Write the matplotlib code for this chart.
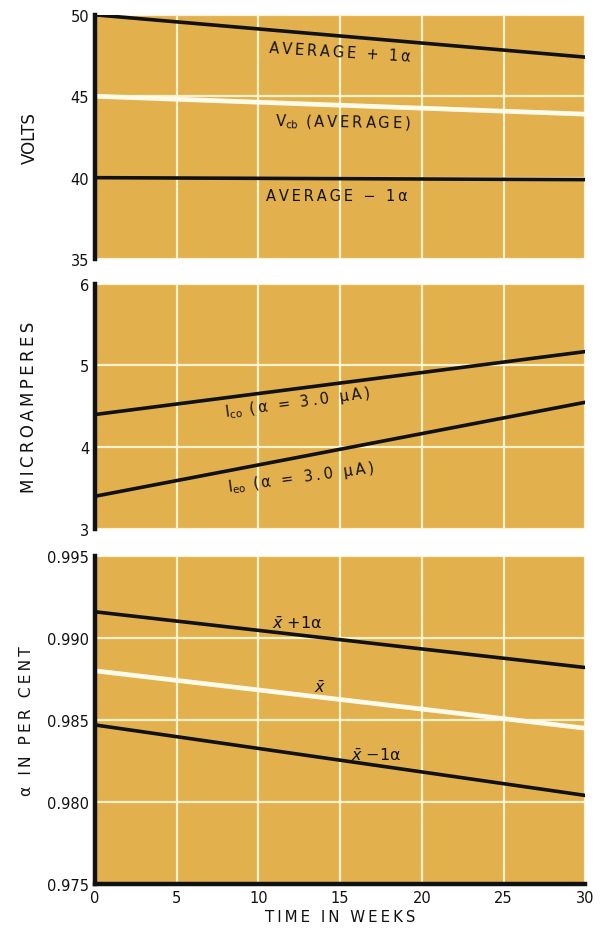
"""
Transistor drift chart: Vcb, Ico/Ieo and alpha over 30 weeks
saved as out.png
"""
import matplotlib
matplotlib.use('Agg')
import matplotlib.pyplot as plt

plt.rcParams['font.family'] = ['DejaVu Sans']

# data
weeks = [0, 30]

volts_plus = [50.0, 47.4]
volts_avg = [45.0, 43.9]
volts_minus = [40.0, 39.88]

ico = [4.40, 5.17]
ieo = [3.40, 4.55]

alpha_plus = [0.9916, 0.9882]
alpha_avg = [0.9880, 0.9845]
alpha_minus = [0.9847, 0.9804]

x_ticks = [0, 5, 10, 15, 20, 25, 30]
volts_ticks = [35, 40, 45, 50]
micro_ticks = [3, 4, 5, 6]
alpha_ticks = [0.975, 0.980, 0.985, 0.990, 0.995]

# ── style ──────────────────────────────────────
bg = '#E2B04C'
grid_c = '#FFF3CF'
ink = '#111111'
THIN = '\u2009'


def sp(s):
    # letter-spaced text, like the old lettering
    return THIN.join(s)


fig = plt.figure(figsize=(6.04, 9.29), dpi=100)
left, width = 0.157, 0.812
ax1 = fig.add_axes([left, 0.720, width, 0.263])
ax2 = fig.add_axes([left, 0.4295, width, 0.264])
ax3 = fig.add_axes([left, 0.0474, width, 0.353])


def style(ax, yticks, ylabel, fmt, show_x):
    ax.set_facecolor(bg)
    ax.set_xlim(0, 30)
    ax.set_ylim(yticks[0], yticks[-1])
    ax.set_xticks(x_ticks)
    ax.set_yticks(yticks)
    ax.set_yticklabels([fmt.format(v) for v in yticks], fontsize=10.5, color=ink)
    ax.grid(True, color=grid_c, linewidth=1.6)
    ax.set_axisbelow(True)
    for s in ['top', 'right']:
        ax.spines[s].set_visible(False)
    ax.spines['left'].set_linewidth(3.2)
    ax.spines['left'].set_color(ink)
    if show_x:
        ax.spines['bottom'].set_linewidth(3.2)
        ax.spines['bottom'].set_color(ink)
        ax.set_xticklabels([str(v) for v in x_ticks], fontsize=10.5, color=ink)
        ax.set_xlabel(sp('TIME IN WEEKS'), fontsize=10.8, color=ink, labelpad=3)
    else:
        ax.spines['bottom'].set_visible(False)
        ax.set_xticklabels([])
    ax.tick_params(length=0, pad=4)
    ax.set_ylabel(ylabel, fontsize=12, color=ink)


style(ax1, volts_ticks, 'VOLTS', '{:d}', False)
style(ax2, micro_ticks, sp('MICROAMPERES'), '{:d}', False)
style(ax3, alpha_ticks, sp('α IN PER CENT'), '{:.3f}', True)
ax3.yaxis.label.set_fontsize(11.2)
ax1.yaxis.set_label_coords(-0.115, 0.5)
ax2.yaxis.set_label_coords(-0.115, 0.5)
ax3.yaxis.set_label_coords(-0.125, 0.5)

lab = dict(fontsize=10.5, color=ink, ha='center', va='center')

# top panel
ax1.plot(weeks, volts_plus, color=ink, lw=2.6, solid_capstyle='butt')
ax1.plot(weeks, volts_avg, color='#FFFBEA', lw=3.4, solid_capstyle='butt')
ax1.plot(weeks, volts_minus, color=ink, lw=2.6, solid_capstyle='butt')
ax1.text(15.0, 47.75, sp('AVERAGE + 1α'), rotation=-3.5, **lab)
ax1.text(15.2, 43.4, r'V$_{\rm cb}$' + sp(' (AVERAGE)'), rotation=-1, **lab)
ax1.text(14.8, 38.9, sp('AVERAGE − 1α'), **lab)

# middle panel
ax2.plot(weeks, ico, color=ink, lw=2.6, solid_capstyle='butt')
ax2.plot(weeks, ieo, color=ink, lw=2.6, solid_capstyle='butt')
ax2.text(12.4, 4.55, r'I$_{\rm co}$' + sp(' (α = 3.0 μA)'), rotation=7.6, **lab)
ax2.text(12.6, 3.64, r'I$_{\rm eo}$' + sp(' (α = 3.0 μA)'), rotation=7.6, **lab)

# bottom panel
ax3.plot(weeks, alpha_plus, color=ink, lw=2.6, solid_capstyle='butt')
ax3.plot(weeks, alpha_avg, color='#FFFBEA', lw=3.4, solid_capstyle='butt')
ax3.plot(weeks, alpha_minus, color=ink, lw=2.6, solid_capstyle='butt')
lab3 = dict(lab, fontsize=11.5)
ax3.text(12.4, 0.9909, r'$\bar{x}$ +1α', **lab3)
ax3.text(13.8, 0.9870, r'$\bar{x}$', **lab3)
ax3.text(17.2, 0.9829, r'$\bar{x}$ −1α', **lab3)

plt.savefig('out.png', dpi=100)
